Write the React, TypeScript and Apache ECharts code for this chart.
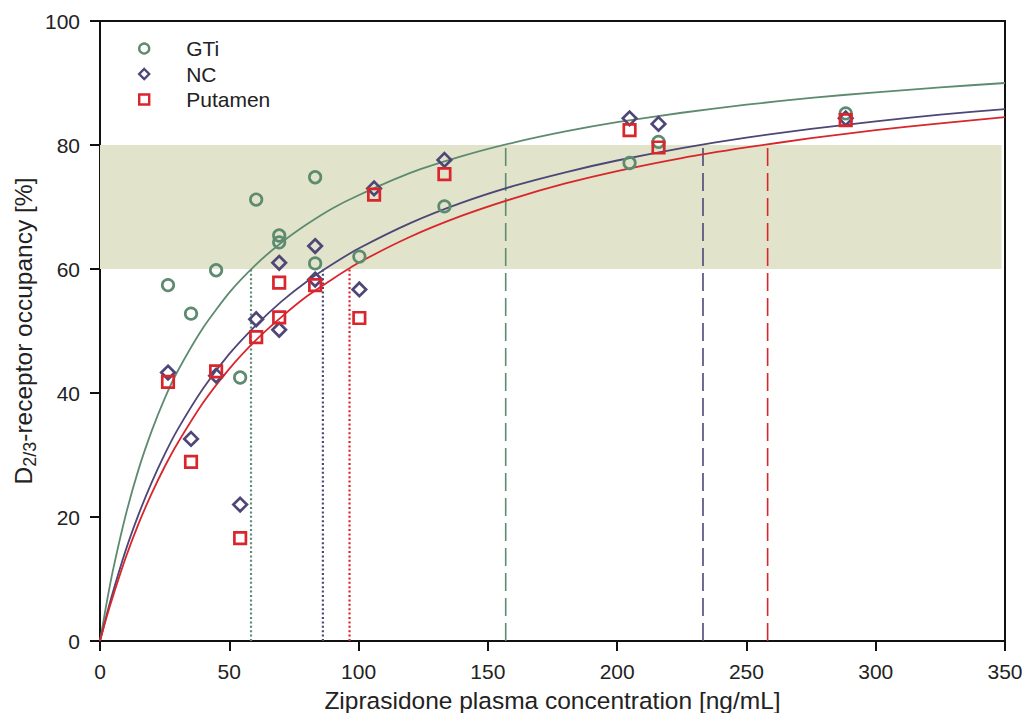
import React, { useEffect, useRef } from "react";
import * as echarts from "echarts";

// ---- data ----
const X_TICKS = [0, 50, 100, 150, 200, 250, 300, 350];
const Y_TICKS = [0, 20, 40, 60, 80, 100];

// measured points [concentration ng/mL, occupancy %]
const GTI_POINTS: [number, number][] = [
  [26.3, 57.4], [35.2, 52.8], [44.9, 59.8], [54.2, 42.5], [60.4, 71.2],
  [69.3, 65.4], [69.3, 64.3], [83.2, 74.8], [83.2, 60.9], [100.3, 62.0],
  [133.2, 70.1], [204.8, 77.1], [216.0, 80.5], [288.4, 85.1],
];
const NC_POINTS: [number, number][] = [
  [26.3, 43.3], [35.2, 32.6], [44.9, 42.8], [54.2, 22.0], [60.4, 51.9],
  [69.3, 61.0], [69.3, 50.2], [83.2, 63.7], [83.2, 58.3], [100.3, 56.7],
  [106.0, 73.0], [133.2, 77.6], [204.8, 84.3], [216.0, 83.4], [288.4, 84.3],
];
const PUTAMEN_POINTS: [number, number][] = [
  [26.3, 41.8], [35.2, 28.9], [44.9, 43.5], [54.2, 16.6], [60.4, 49.0],
  [69.3, 57.8], [69.3, 52.2], [83.2, 57.4], [100.3, 52.1], [106.0, 72.0],
  [133.2, 75.3], [204.8, 82.4], [216.0, 79.6], [288.4, 84.0],
];

// fitted curves, read at these concentrations
const CURVE_X = [0, 2.5, 5, 10, 15, 20, 25, 30, 40, 50, 60, 70, 80, 90, 100, 120, 140, 160, 180, 200, 225, 250, 275, 300, 325, 350];
const GTI_CURVE = [0, 6.0, 11.4, 20.4, 27.8, 33.9, 39.1, 43.5, 50.6, 56.2, 60.6, 64.2, 67.2, 69.8, 71.9, 75.5, 78.2, 80.4, 82.2, 83.7, 85.2, 86.5, 87.6, 88.5, 89.3, 90.0];
const NC_CURVE = [0, 4.1, 7.9, 14.7, 20.5, 25.6, 30.1, 34.1, 40.8, 46.3, 50.8, 54.7, 58.0, 60.8, 63.3, 67.4, 70.7, 73.4, 75.6, 77.5, 79.5, 81.2, 82.6, 83.8, 84.9, 85.8];
const PUTAMEN_CURVE = [0, 3.8, 7.2, 13.5, 19.0, 23.8, 28.1, 31.9, 38.5, 43.9, 48.4, 52.2, 55.6, 58.4, 61.0, 65.2, 68.6, 71.4, 73.8, 75.8, 77.9, 79.6, 81.1, 82.4, 83.5, 84.5];

// concentrations where the curves reach 60 % and 80 % (GTi, NC, Putamen)
const C60 = [58.4, 86.2, 96.5];
const C80 = [156.9, 233.2, 258.2];
const LEVEL_LOW = 60;
const LEVEL_HIGH = 80;
const BAND_X_END = 348.7;

const NAMES = ["GTi", "NC", "Putamen"];
const COLORS = ["#5d8b70", "#4d4677", "#d8262c"];
const SYMBOLS = ["circle", "diamond", "rect"];
const SYMBOL_SIZES = [11.5, 13.5, 11.5];

export default function App() {
  const ref = useRef<HTMLDivElement>(null);

  useEffect(() => {
    if (!ref.current) return;
    const chart = echarts.init(ref.current, undefined, { renderer: "svg" });
    const font = "'Liberation Sans', Arial, Helvetica, sans-serif";
    const points = [GTI_POINTS, NC_POINTS, PUTAMEN_POINTS];
    const curves = [GTI_CURVE, NC_CURVE, PUTAMEN_CURVE];

    const series: any[] = [];
    // band
    series.push({
      type: "line",
      data: [],
      silent: true,
      z: 0,
      markArea: {
        silent: true,
        itemStyle: { color: "#e1e3ca" },
        data: [[{ coord: [0, LEVEL_LOW] }, { coord: [BAND_X_END, LEVEL_HIGH] }]],
      },
    });
    // reference lines
    for (let i = 0; i < 3; i++) {
      series.push({
        type: "line",
        data: [[C60[i], 0], [C60[i], LEVEL_LOW]],
        symbol: "none",
        silent: true,
        z: 1,
        lineStyle: { color: COLORS[i], width: 2.2, type: [2, 2.4] },
      });
      series.push({
        type: "line",
        data: [[C80[i], 0], [C80[i], LEVEL_HIGH]],
        symbol: "none",
        silent: true,
        z: 1,
        lineStyle: { color: COLORS[i], width: 1.6, type: [18, 7] },
      });
    }
    // curves
    for (let i = 0; i < 3; i++) {
      series.push({
        type: "line",
        data: CURVE_X.map((x, k) => [x, curves[i][k]]),
        symbol: "none",
        smooth: 0.2,
        silent: true,
        z: 2,
        lineStyle: { color: COLORS[i], width: 1.8 },
      });
    }
    // points
    for (let i = 0; i < 3; i++) {
      series.push({
        name: NAMES[i],
        type: "scatter",
        data: points[i],
        symbol: SYMBOLS[i],
        symbolSize: SYMBOL_SIZES[i],
        z: 3,
        itemStyle: {
          color: "rgba(255,255,255,0)",
          borderColor: COLORS[i],
          borderWidth: 2.7,
          opacity: 1,
        },
      });
    }

    chart.setOption({
      animation: false,
      backgroundColor: "#ffffff",
      textStyle: { fontFamily: font },
      grid: {
        left: 100,
        right: 18,
        top: 21,
        bottom: 72,
        containLabel: false,
        outerBoundsMode: "none",
        show: true,
        borderColor: "#111",
        borderWidth: 2,
        backgroundColor: "transparent",
      },
      legend: {
        orient: "vertical",
        left: 133,
        top: 33,
        itemWidth: 10,
        itemHeight: 10,
        itemGap: 4.5,
        data: NAMES.map((n, i) => ({ name: n, icon: SYMBOLS[i] })),
        itemStyle: { borderWidth: 2.4 },
        textStyle: { fontSize: 21, color: "#222", fontFamily: font, padding: [0, 0, 0, 32], lineHeight: 21 },
        selectedMode: false,
      },
      xAxis: {
        type: "value",
        min: X_TICKS[0],
        max: X_TICKS[X_TICKS.length - 1],
        interval: X_TICKS[1] - X_TICKS[0],
        name: "Ziprasidone plasma concentration [ng/mL]",
        nameLocation: "middle",
        nameGap: 47,
        nameMoveOverlap: false,
        nameTextStyle: { fontSize: 24.5, color: "#222", fontFamily: font },
        axisLine: { show: true, onZero: false, lineStyle: { color: "#111", width: 2 } },
        axisTick: { show: true, inside: false, length: 10, lineStyle: { color: "#111", width: 2 } },
        axisLabel: { fontSize: 21, color: "#222", margin: 20, fontFamily: font },
        splitLine: { show: false },
      },
      yAxis: {
        type: "value",
        min: Y_TICKS[0],
        max: Y_TICKS[Y_TICKS.length - 1],
        interval: Y_TICKS[1] - Y_TICKS[0],
        name: "D{sub|2/3}-receptor occupancy [%]",
        nameLocation: "middle",
        nameGap: 61,
        nameMoveOverlap: false,
        nameTextStyle: {
          fontSize: 24.5,
          color: "#222",
          fontFamily: font,
          lineHeight: 32,
          rich: {
            sub: { fontSize: 18, color: "#222", fontFamily: font, lineHeight: 15, verticalAlign: "bottom" },
          },
        },
        axisLine: { show: true, onZero: false, lineStyle: { color: "#111", width: 2 } },
        axisTick: { show: true, inside: false, length: 10, lineStyle: { color: "#111", width: 2 } },
        axisLabel: { fontSize: 21, color: "#222", margin: 20, fontFamily: font },
        splitLine: { show: false },
      },
      series,
    });

    return () => chart.dispose();
  }, []);

  return (
    <div
      ref={ref}
      style={{ position: "absolute", left: 0, top: 0, width: 1023, height: 713 }}
    />
  );
}
